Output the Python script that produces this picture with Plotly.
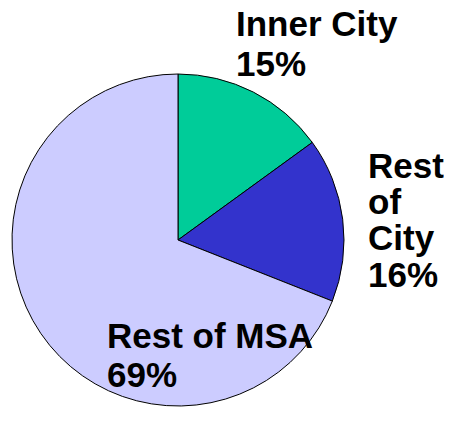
import plotly.graph_objects as go

# slice data
labels = ['Inner City', 'Rest of City', 'Rest of MSA']
values = [15, 16, 69]
colors = ['#00CC99', '#3333CC', '#CCCCFF']

# label text lines (one annotation per line) and pixel anchor (left x, baseline y)
label_lines = [
    ['Inner City', '15%'],
    ['Rest', 'of', 'City', '16%'],
    ['Rest of MSA', '69%'],
]
label_pos = [
    [(234, 36), (234, 76)],
    [(366, 178), (366, 214), (366, 250), (366, 287)],
    [(105, 348), (105, 387)],
]

W, H = 452, 423
OFF = 8  # page body margin
FS = 35

fig = go.Figure()
fig.add_trace(go.Pie(
    labels=labels, values=values, sort=False, direction='clockwise', rotation=0,
    marker=dict(colors=colors, line=dict(color='black', width=1)),
    textinfo='none', hoverinfo='label+percent', showlegend=False,
    domain=dict(x=[(12 - OFF) / W, (344 - OFF) / W], y=[1 - (406 - OFF) / H, 1 - (74 - OFF) / H]),
))

for lines, pos in zip(label_lines, label_pos):
    for txt, (px, py) in zip(lines, pos):
        fig.add_annotation(
            text='<b>%s</b>' % txt, x=(px - OFF) / W, y=1 - (py - OFF - 0.36 * FS) / H,
            xref='paper', yref='paper', xanchor='left', yanchor='middle',
            showarrow=False, font=dict(family='Liberation Sans, Arial', size=FS, color='black'),
        )

fig.update_layout(
    width=W, height=H, margin=dict(l=0, r=0, t=0, b=0),
    paper_bgcolor='white', plot_bgcolor='white',
)
fig.write_html('out.html')
